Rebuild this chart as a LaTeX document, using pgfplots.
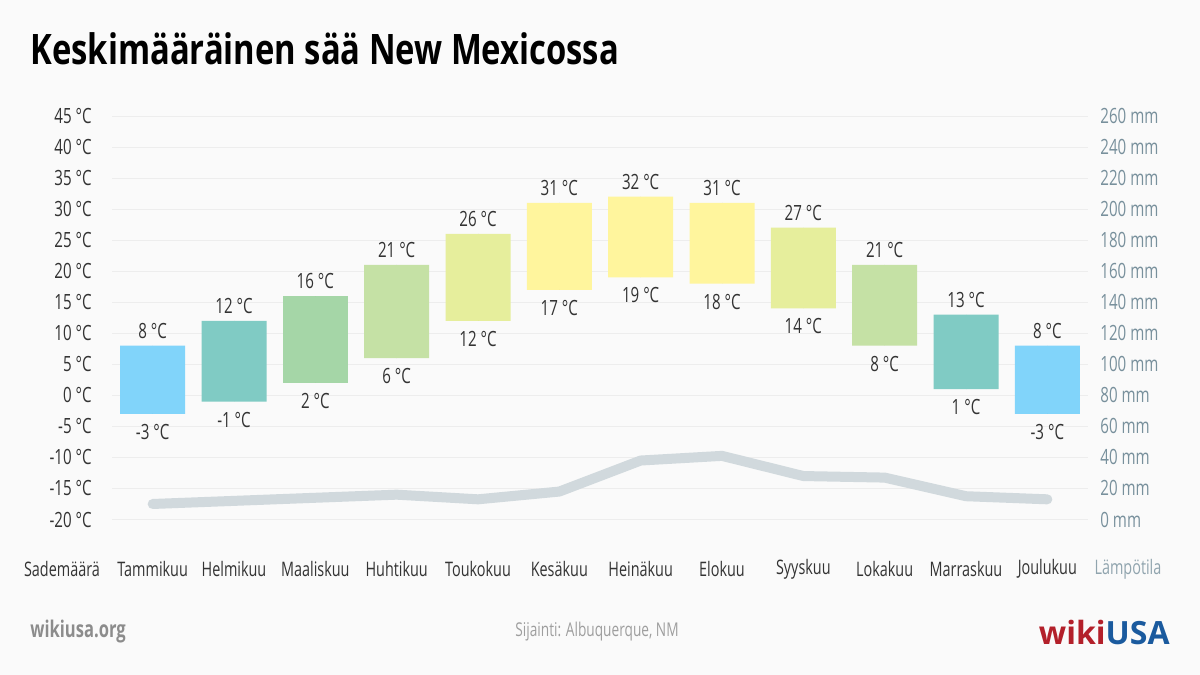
\documentclass[border=0pt]{standalone}
\usepackage{pgfplots}
\pgfplotsset{compat=1.18}
\usepackage{pgfplotstable}
\usepackage{fontspec}
\setmainfont{Open Sans}[FakeStretch=0.72]
\newfontfamily\titlefont{Open Sans}[FakeStretch=0.78]
\newfontfamily\logofont{Open Sans}

\definecolor{bgc}{HTML}{FAFAFA}
\definecolor{gridc}{HTML}{EDEDED}
\definecolor{txt}{HTML}{333333}
\definecolor{rtick}{HTML}{78909C}
\definecolor{rlab}{HTML}{90A4AE}
\definecolor{rainc}{HTML}{D1D9DD}
\definecolor{c1}{HTML}{81D4FA}
\definecolor{c2}{HTML}{80CBC4}
\definecolor{c3}{HTML}{A5D6A7}
\definecolor{c4}{HTML}{C5E1A5}
\definecolor{c5}{HTML}{E6EE9C}
\definecolor{c6}{HTML}{FFF59D}
\definecolor{usared}{HTML}{B3202A}
\definecolor{usablue}{HTML}{1A5A9E}

% x = month index, lo/hi in degC, c = colour class, rain in mm
\pgfplotstableread{
x  lo  hi  c  rain
0  -3  8   1  10
1  -1  12  2  12
2  2   16  3  14
3  6   21  4  16
4  12  26  5  13
5  17  31  6  18
6  19  32  6  38
7  18  31  6  41
8  14  27  5  28
9  8   21  4  27
10 1   13  2  15
11 -3  8   1  13
}\climate

\pgfplotsset{
  frame/.style={at={(56pt,77.75pt)}, anchor=south west, scale only axis,
    width=488pt, height=201.75pt, xmin=-0.5, xmax=11.5},
}

\begin{document}
\begin{tikzpicture}
\fill[bgc] (0,0) rectangle (600pt,337.5pt);
\node[anchor=base west, inner sep=0pt, font=\titlefont\bfseries\fontsize{21}{25}\selectfont]
  at (15pt,305pt) {Keskimääräinen sää New Mexicossa};

\begin{axis}[frame,
  ymin=-20, ymax=45,
  ybar stacked, stack negative=on previous, bar width=32.5pt,
  axis line style={draw=none},
  major tick length=0pt,
  xtick={0,...,11},
  xticklabels={Tammikuu,Helmikuu,Maaliskuu,Huhtikuu,Toukokuu,Kesäkuu,Heinäkuu,Elokuu,Syyskuu,Lokakuu,Marraskuu,Joulukuu},
  xticklabel style={anchor=center, yshift=-24.75pt, text=txt, font=\fontsize{10}{12}\selectfont},
  ytick={-20,-15,...,45},
  yticklabels={-20 °C,-15 °C,-10 °C,-5 °C,0 °C,5 °C,10 °C,15 °C,20 °C,25 °C,30 °C,35 °C,40 °C,45 °C},
  yticklabel style={anchor=east, inner sep=0pt, xshift=-10pt, text=txt, font=\fontsize{10.5}{12}\selectfont},
  ymajorgrids, grid style={gridc, line width=0.5pt},
]
\addplot[draw=none, fill=none] table[x=x, y=lo] {\climate};
\addplot[draw=none, fill=c1] table[x=x, y expr={\thisrow{c}==1 ? \thisrow{hi}-\thisrow{lo} : 0}] {\climate};
\addplot[draw=none, fill=c2] table[x=x, y expr={\thisrow{c}==2 ? \thisrow{hi}-\thisrow{lo} : 0}] {\climate};
\addplot[draw=none, fill=c3] table[x=x, y expr={\thisrow{c}==3 ? \thisrow{hi}-\thisrow{lo} : 0}] {\climate};
\addplot[draw=none, fill=c4] table[x=x, y expr={\thisrow{c}==4 ? \thisrow{hi}-\thisrow{lo} : 0}] {\climate};
\addplot[draw=none, fill=c5] table[x=x, y expr={\thisrow{c}==5 ? \thisrow{hi}-\thisrow{lo} : 0}] {\climate};
\addplot[draw=none, fill=c6] table[x=x, y expr={\thisrow{c}==6 ? \thisrow{hi}-\thisrow{lo} : 0}] {\climate};
\end{axis}

% temperature labels
\begin{axis}[frame, ymin=-20, ymax=45, hide axis]
\addplot[only marks, mark=*, mark size=0pt, mark options={draw=none, fill=none},
  point meta=explicit symbolic,
  nodes near coords={\pgfplotspointmeta~°C},
  every node near coord/.append style={anchor=center, yshift=7.5pt, text=txt, font=\fontsize{10.5}{12}\selectfont}]
  table[x=x, y=hi, meta=hi] {\climate};
\addplot[only marks, mark=*, mark size=0pt, mark options={draw=none, fill=none},
  point meta=explicit symbolic,
  nodes near coords={\pgfplotspointmeta~°C},
  every node near coord/.append style={anchor=center, yshift=-9pt, text=txt, font=\fontsize{10.5}{12}\selectfont}]
  table[x=x, y=lo, meta=lo] {\climate};
\end{axis}

% precipitation
\begin{axis}[frame, ymin=0, ymax=260,
  axis x line=none, axis y line*=right, y axis line style={draw=none},
  major tick length=0pt,
  ytick={0,20,...,260},
  yticklabels={0 mm,20 mm,40 mm,60 mm,80 mm,100 mm,120 mm,140 mm,160 mm,180 mm,200 mm,220 mm,240 mm,260 mm},
  yticklabel style={anchor=west, inner sep=0pt, xshift=6pt, text=rtick, font=\fontsize{10.5}{12}\selectfont},
]
\addplot[rainc, line width=5pt, line join=round, line cap=round, mark=none] table[x=x, y=rain] {\climate};
\end{axis}

\node[text=txt, font=\fontsize{10}{12}\selectfont] at (31pt,53pt) {Sademäärä};
\node[text=rlab, font=\fontsize{10}{12}\selectfont] at (564pt,53pt) {Lämpötila};

\node[anchor=west, inner sep=0pt, text=black!45, font=\bfseries\fontsize{11.5}{13}\selectfont] at (15pt,21.5pt) {wikiusa.org};
\node[text=black!38, font=\fontsize{9.5}{12}\selectfont] at (298.5pt,21.5pt) {Sijainti: Albuquerque, NM};
\node[anchor=east, inner sep=0pt, font=\logofont\bfseries\fontsize{16}{18}\selectfont] at (585pt,21.5pt)
  {\textcolor{usared}{wiki}\textcolor{usablue}{USA}};
\end{tikzpicture}
\end{document}
